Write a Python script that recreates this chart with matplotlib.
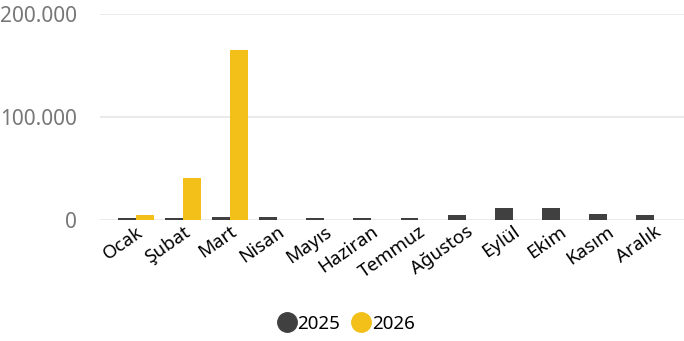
import matplotlib
matplotlib.use("Agg")
import matplotlib.pyplot as plt
import numpy as np
from matplotlib.ticker import FuncFormatter

plt.rcParams['font.family'] = ['Noto Sans', 'DejaVu Sans']

months = ["Ocak", "Şubat", "Mart", "Nisan", "Mayıs", "Haziran",
          "Temmuz", "Ağustos", "Eylül", "Ekim", "Kasım", "Aralık"]
v2025 = [2000, 2000, 3000, 2500, 1500, 1500, 1800, 4500, 12000, 11500, 5500, 4500]
v2026 = [5000, 41000, 165000, 0, 0, 0, 0, 0, 0, 0, 0, 0]

c2025 = "#404040"
c2026 = "#F2C019"

fig = plt.figure(figsize=(6.84, 3.41), dpi=100)
ax = fig.add_axes([100/684, 1-220/341, 584/684, (220-14)/341])

x = np.arange(len(months))
w = 0.38
ax.bar(x - w/2, v2025, width=w, color=c2025, label="2025")
ax.bar(x + w/2, v2026, width=w, color=c2026, label="2026")

ax.set_xlim(-0.764, 11.64)
ax.set_ylim(0, 200000)
ax.set_yticks([0, 100000, 200000])
ax.yaxis.set_major_formatter(FuncFormatter(lambda v, p: f"{int(v):,}".replace(",", ".")))
ax.grid(axis="y", color="#e6e6e6", linewidth=1.2)
ax.set_axisbelow(True)
for s in ax.spines.values():
    s.set_visible(False)
ax.tick_params(axis="y", length=0, labelsize=15, labelcolor="#777777", pad=16.5)
ax.tick_params(axis="x", length=0, labelsize=13.5, pad=2)
ax.set_xticks(x)
ax.set_xticklabels(months, rotation=35, ha="right", rotation_mode="anchor")

handles = [plt.Line2D([], [], marker="o", linestyle="", markersize=14, color=c2025),
           plt.Line2D([], [], marker="o", linestyle="", markersize=14, color=c2026)]
fig.legend(handles, ["2025", "2026"], loc="center", bbox_to_anchor=(0.505, 0.05),
           ncol=2, frameon=False, fontsize=13.5, handletextpad=0.0, columnspacing=0.6,
           handlelength=1.1)

fig.savefig("out.png", dpi=100)
